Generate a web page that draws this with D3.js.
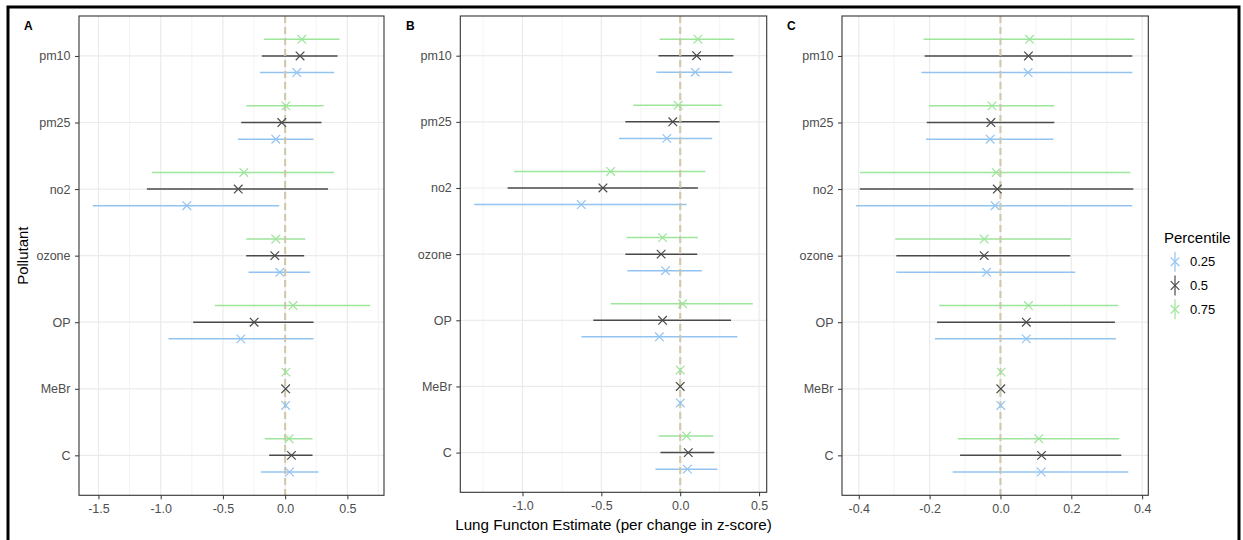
<!DOCTYPE html>
<html>
<head>
<meta charset="utf-8">
<script src="https://cdn.jsdelivr.net/npm/d3@7"></script>
<style>
  html, body { margin: 0; padding: 0; background: #fff; }
  svg { display: block; font-family: "Liberation Sans", Arial, sans-serif; }
</style>
</head>
<body>
<svg id="chart" width="1243" height="540"></svg>
<script>
// Pollutants (top to bottom) and percentile groups
const pollutants = ["pm10", "pm25", "no2", "ozone", "OP", "MeBr", "C"];
const percentiles = ["0.25", "0.5", "0.75"];

// Panel A: estimate, lower and upper bound; rows follow `percentiles`
const estA = [
  [0.094, -0.075, -0.790, -0.043, -0.356, 0.004, 0.035],
  [0.120, -0.027, -0.377, -0.083, -0.249, 0.004, 0.051],
  [0.134, 0.006, -0.332, -0.075, 0.064, 0.006, 0.032]
];
const loA = [
  [-0.203, -0.380, -1.545, -0.294, -0.937, -0.001, -0.195],
  [-0.187, -0.353, -1.111, -0.313, -0.739, -0.001, -0.128],
  [-0.169, -0.313, -1.071, -0.313, -0.565, 0.001, -0.163]
];
const hiA = [
  [0.394, 0.228, -0.048, 0.201, 0.228, 0.009, 0.268],
  [0.421, 0.292, 0.345, 0.153, 0.228, 0.009, 0.220],
  [0.437, 0.308, 0.394, 0.161, 0.683, 0.011, 0.220]
];

// Panel B
const estB = [
  [0.095, -0.085, -0.627, -0.093, -0.132, 0.001, 0.045],
  [0.104, -0.047, -0.490, -0.121, -0.112, 0.000, 0.051],
  [0.112, -0.013, -0.441, -0.112, 0.015, 0.000, 0.040]
];
const loB = [
  [-0.151, -0.388, -1.306, -0.335, -0.626, -0.003, -0.157],
  [-0.138, -0.348, -1.094, -0.348, -0.551, -0.004, -0.125],
  [-0.130, -0.297, -1.053, -0.341, -0.441, -0.004, -0.138]
];
const hiB = [
  [0.330, 0.203, 0.040, 0.137, 0.362, 0.005, 0.235],
  [0.337, 0.250, 0.112, 0.108, 0.322, 0.004, 0.216],
  [0.343, 0.263, 0.159, 0.112, 0.460, 0.004, 0.210]
];

// Panel C
const estC = [
  [0.078, -0.029, -0.015, -0.039, 0.073, 0.001, 0.115],
  [0.079, -0.027, -0.009, -0.046, 0.073, 0.001, 0.116],
  [0.082, -0.024, -0.012, -0.046, 0.079, 0.002, 0.108]
];
const loC = [
  [-0.223, -0.210, -0.408, -0.294, -0.185, -0.001, -0.135],
  [-0.214, -0.208, -0.397, -0.294, -0.179, -0.001, -0.114],
  [-0.217, -0.202, -0.397, -0.297, -0.173, 0.000, -0.120]
];
const hiC = [
  [0.372, 0.149, 0.372, 0.211, 0.326, 0.003, 0.361],
  [0.372, 0.152, 0.375, 0.197, 0.323, 0.003, 0.341],
  [0.378, 0.152, 0.367, 0.199, 0.333, 0.004, 0.335]
];

// Axis ticks per panel
const ticksA = [-1.5, -1.0, -0.5, 0.0, 0.5];
const ticksB = [-1.0, -0.5, 0.0, 0.5];
const ticksC = [-0.4, -0.2, 0.0, 0.2, 0.4];

const colors = { "0.25": "#92c4f2", "0.5": "#4a4a4a", "0.75": "#9ce59a" };
const dodge = { "0.25": 0.25, "0.5": 0, "0.75": -0.25 };

const svg = d3.select("#chart");
const fmt = v => d3.format(".1f")(v).replace("\u2212", "-");

// outer frame
svg.append("rect")
  .attr("x", 8).attr("y", 7).attr("width", 1231).attr("height", 560)
  .attr("fill", "none").attr("stroke", "#000").attr("stroke-width", 3);

const panels = [
  { tag: "A", est: estA, lo: loA, hi: hiA, ticks: ticksA, x0: 79, x1: 384, y0: 16, y1: 495.3, letterX: 24, yTitle: true },
  { tag: "B", est: estB, lo: loB, hi: hiB, ticks: ticksB, x0: 460.3, x1: 766.7, y0: 16, y1: 492.3, letterX: 406, xTitle: true },
  { tag: "C", est: estC, lo: loC, hi: hiC, ticks: ticksC, x0: 842, x1: 1148.3, y0: 16, y1: 495.3, letterX: 787 }
];

panels.forEach(p => {
  const g = svg.append("g");
  const allVals = p.lo.flat().concat(p.hi.flat());
  const [mn, mx] = d3.extent(allVals);
  const pad = (mx - mn) * 0.05;
  const x = d3.scaleLinear().domain([mn - pad, mx + pad]).range([p.x0, p.x1]);
  const y = d3.scalePoint().domain(pollutants).range([p.y0, p.y1]).padding(0.6);
  const step = y.step();

  // minor grid (midpoints between ticks)
  const minor = [];
  const tstep = p.ticks[1] - p.ticks[0];
  for (let i = -1; i < p.ticks.length; i++) {
    const m = p.ticks[0] + tstep * (i + 0.5);
    if (m > x.domain()[0] && m < x.domain()[1]) minor.push(m);
  }
  g.selectAll(".minor").data(minor).join("line")
    .attr("x1", d => x(d)).attr("x2", d => x(d))
    .attr("y1", p.y0).attr("y2", p.y1)
    .attr("stroke", "#f0f0f0").attr("stroke-width", 0.8);
  g.selectAll(".majorx").data(p.ticks).join("line")
    .attr("x1", d => x(d)).attr("x2", d => x(d))
    .attr("y1", p.y0).attr("y2", p.y1)
    .attr("stroke", "#ebebeb").attr("stroke-width", 1.2);
  g.selectAll(".majory").data(pollutants).join("line")
    .attr("x1", p.x0).attr("x2", p.x1)
    .attr("y1", d => y(d)).attr("y2", d => y(d))
    .attr("stroke", "#ebebeb").attr("stroke-width", 1.2);

  // rows of marks
  const rows = [];
  percentiles.forEach((pc, k) => {
    pollutants.forEach((pol, i) => {
      rows.push({ pc, pol, est: p.est[k][i], lo: p.lo[k][i], hi: p.hi[k][i] });
    });
  });
  const yy = d => y(d.pol) + dodge[d.pc] * step;

  g.selectAll(".ci").data(rows).join("line")
    .attr("x1", d => x(d.lo)).attr("x2", d => x(d.hi))
    .attr("y1", yy).attr("y2", yy)
    .attr("stroke", d => colors[d.pc]).attr("stroke-width", 1.5);

  // zero reference line
  g.append("line")
    .attr("x1", x(0)).attr("x2", x(0))
    .attr("y1", p.y0).attr("y2", p.y1)
    .attr("stroke", "#cfc6a8").attr("stroke-width", 2.2)
    .attr("stroke-dasharray", "7,4").attr("opacity", 0.9);

  const s = 4.3;
  g.selectAll(".pt").data(rows).join("path")
    .attr("d", d => {
      const cx = x(d.est), cy = yy(d);
      return `M${cx - s},${cy - s}L${cx + s},${cy + s}M${cx - s},${cy + s}L${cx + s},${cy - s}`;
    })
    .attr("stroke", d => colors[d.pc]).attr("stroke-width", 1.2).attr("fill", "none");

  // panel border
  g.append("rect")
    .attr("x", p.x0).attr("y", p.y0)
    .attr("width", p.x1 - p.x0).attr("height", p.y1 - p.y0)
    .attr("fill", "none").attr("stroke", "#333").attr("stroke-width", 1.1);

  // axes
  const xAxis = d3.axisBottom(x).tickValues(p.ticks).tickFormat(fmt).tickSize(4).tickPadding(5);
  const gx = g.append("g").attr("transform", `translate(0,${p.y1})`).call(xAxis);
  gx.select(".domain").remove();
  gx.selectAll(".tick line").attr("stroke", "#333");
  gx.selectAll(".tick text").attr("fill", "#4d4d4d").style("font-size", "12.5px")
    .attr("font-family", "Liberation Sans, Arial, sans-serif");

  const yAxis = d3.axisLeft(y).tickSize(4).tickPadding(4.5);
  const gy = g.append("g").attr("transform", `translate(${p.x0},0)`).call(yAxis);
  gy.select(".domain").remove();
  gy.selectAll(".tick line").attr("stroke", "#333");
  gy.selectAll(".tick text").attr("fill", "#4d4d4d").style("font-size", "12.5px")
    .attr("font-family", "Liberation Sans, Arial, sans-serif");

  // panel tag
  g.append("text").attr("x", p.letterX).attr("y", 29.5)
    .attr("font-weight", "bold").attr("font-size", 12).attr("fill", "#000")
    .text(p.tag);

  if (p.yTitle) {
    g.append("text")
      .attr("transform", `translate(28,${(p.y0 + p.y1) / 2}) rotate(-90)`)
      .attr("text-anchor", "middle").attr("font-size", 15).attr("fill", "#000")
      .text("Pollutant");
  }
  if (p.xTitle) {
    g.append("text")
      .attr("x", (p.x0 + p.x1) / 2).attr("y", 529.5)
      .attr("text-anchor", "middle").attr("font-size", 15.2).attr("fill", "#000")
      .text("Lung Functon Estimate (per change in z-score)");
  }
});

// legend
const lg = svg.append("g");
lg.append("text").attr("x", 1164).attr("y", 243)
  .attr("font-size", 15).attr("fill", "#000").text("Percentile");
const ly = d3.scalePoint().domain(percentiles).range([261.7, 309.3]);
percentiles.forEach(pc => {
  const cy = ly(pc), cx = 1175, s = 4.3;
  lg.append("line").attr("x1", cx).attr("x2", cx).attr("y1", cy - 10).attr("y2", cy + 10)
    .attr("stroke", colors[pc]).attr("stroke-width", 1.2);
  lg.append("path")
    .attr("d", `M${cx - s},${cy - s}L${cx + s},${cy + s}M${cx - s},${cy + s}L${cx + s},${cy - s}`)
    .attr("stroke", colors[pc]).attr("stroke-width", 1.2).attr("fill", "none");
  lg.append("text").attr("x", 1190).attr("y", cy + 4.5)
    .attr("font-size", 13).attr("fill", "#000").text(pc);
});
</script>
</body>
</html>
